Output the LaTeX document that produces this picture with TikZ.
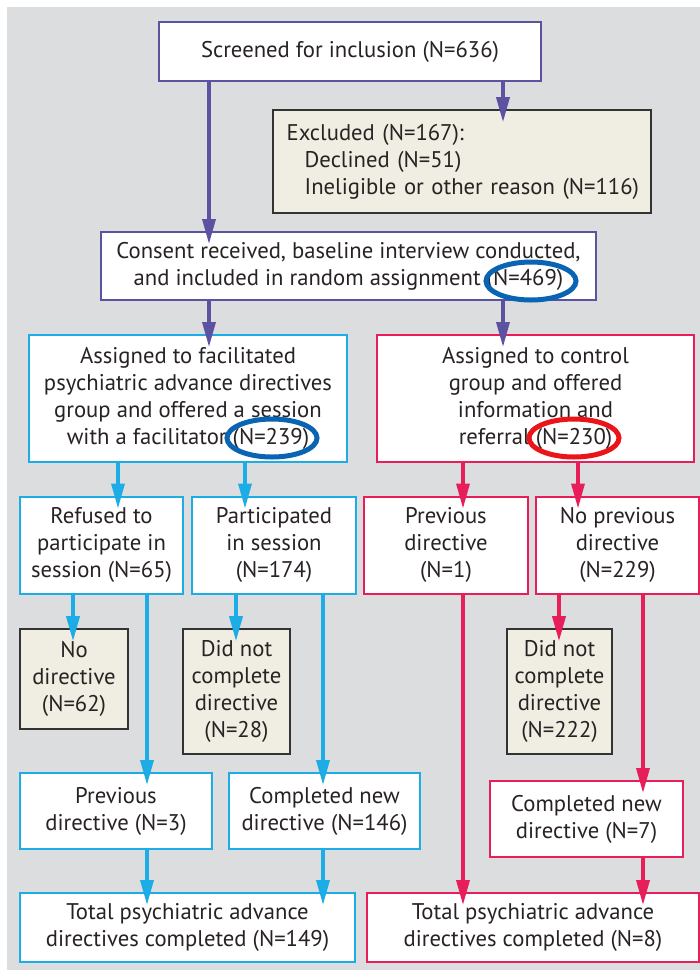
\documentclass[tikz,border=0pt]{standalone}
\usepackage{fontspec}
\setmainfont{PT Sans}
\usetikzlibrary{arrows.meta,calc,shapes.geometric}
\definecolor{bg}{RGB}{220,221,223}
\definecolor{purp}{RGB}{92,82,162}
\definecolor{cyanb}{RGB}{28,172,230}
\definecolor{pinkr}{RGB}{232,30,90}
\definecolor{beige}{RGB}{240,237,227}
\definecolor{ellb}{RGB}{10,100,180}
\definecolor{ellr}{RGB}{235,20,25}
\definecolor{txt}{RGB}{40,34,34}
\begin{document}
\begin{tikzpicture}[x=0.75pt,y=-0.75pt,
  every node/.style={font=\fontsize{17}{20.25}\selectfont, text=txt},
  box/.style={draw, line width=1.5pt, fill=white, inner sep=0pt, align=center},
  pbox/.style={box, draw=purp},
  bbox/.style={box, draw=cyanb},
  rbox/.style={box, draw=pinkr},
  gbox/.style={box, draw=black!80, fill=beige, line width=1.2pt},
  arr/.style={line width=2.6pt, -{Triangle[length=18.75pt,width=9.75pt]}},
  ring/.style={draw, ellipse, line width=3.75pt, minimum width=67.5pt, minimum height=28.5pt, inner sep=0pt},
]
\useasboundingbox (0,0) rectangle (700,976);
\fill[bg] (7,7) rectangle (700,970);

% x positions of connectors
\coordinate (xA) at (209,0);
\coordinate (xB) at (503,0);
\coordinate (xC) at (118,0);
\coordinate (xD) at (245,0);
\coordinate (xE) at (463,0);
\coordinate (xF) at (578,0);
\coordinate (xG) at (73,0);
\coordinate (xH) at (147,0);
\coordinate (xI) at (236,0);
\coordinate (xJ) at (323,0);
\coordinate (xK) at (559,0);
\coordinate (xL) at (643,0);

% boxes
\node[pbox, minimum width=286.5pt, minimum height=44.25pt] (scr) at (350,51.5) {Screened for inclusion (N=636)};
\node[gbox, minimum width=283.5pt, minimum height=77.25pt, text width=272pt, align=left] (exc) at (462,161.5)
  {\hspace*{4.5pt}Excluded (N=167):\\\hspace*{18pt}Declined (N=51)\\\hspace*{18pt}Ineligible or other reason (N=116)};
\node[pbox, minimum width=371.25pt, minimum height=51pt] (cons) at (348.5,266)
  {Consent received, baseline interview conducted,\\and included in random assignment (N=469)};
\node[bbox, minimum width=238.5pt, minimum height=95.25pt] (fac) at (188,398.5)
  {Assigned to facilitated\\psychiatric advance directives\\group and offered a session\\with a facilitator (N=239)};
\node[rbox, minimum width=237.75pt, minimum height=95.25pt] (ctl) at (535.5,398.5)
  {Assigned to control\\group and offered\\information and\\referral (N=230)};

\node[bbox, minimum width=122.25pt, minimum height=72.75pt] (ref) at (101.5,545) {Refused to\\participate in\\session (N=65)};
\node[bbox, minimum width=123pt, minimum height=72.75pt] (par) at (274,545) {Participated\\in session\\(N=174)};
\node[rbox, minimum width=123pt, minimum height=72.75pt] (pr1) at (446,545) {Previous\\directive\\(N=1)};
\node[rbox, minimum width=122.25pt, minimum height=72.75pt] (npr) at (617.5,545) {No previous\\directive\\(N=229)};

\node[gbox, minimum width=81pt, minimum height=75pt] (nod) at (74,679) {No\\directive\\(N=62)};
\node[gbox, minimum width=80.25pt, minimum height=93.75pt] (dn1) at (236.5,691.5) {Did not\\complete\\directive\\(N=28)};
\node[gbox, minimum width=78.75pt, minimum height=93.75pt] (dn2) at (559.5,691.5) {Did not\\complete\\directive\\(N=222)};

\node[bbox, minimum width=144pt, minimum height=57pt] (pr3) at (116,811) {Previous\\directive (N=3)};
\node[bbox, minimum width=143.25pt, minimum height=57pt] (cn1) at (324.5,811) {Completed new\\directive (N=146)};
\node[rbox, minimum width=144.75pt, minimum height=57pt] (cn2) at (586.5,819) {Completed new\\directive (N=7)};

\node[bbox, minimum width=251.25pt, minimum height=51.75pt] (totl) at (187.5,927.5) {Total psychiatric advance\\directives completed (N=149)};
\node[rbox, minimum width=249pt, minimum height=51.75pt] (totr) at (533,927.5) {Total psychiatric advance\\directives completed (N=8)};

% connectors
\draw[arr, purp] (scr.south -| xA) -- ([yshift=-9.75pt]cons.north -| xA);
\draw[arr, purp] (scr.south -| xB) -- ([yshift=-9.75pt]exc.north -| xB);
\draw[arr, purp] (cons.south -| xA) -- ([yshift=-9.75pt]fac.north -| xA);
\draw[arr, purp] (cons.south -| xB) -- ([yshift=-9.75pt]ctl.north -| xB);

\draw[arr, cyanb] (fac.south -| xC) -- ([yshift=-9.75pt]ref.north -| xC);
\draw[arr, cyanb] (fac.south -| xD) -- ([yshift=-9.75pt]par.north -| xD);
\draw[arr, pinkr] (ctl.south -| xE) -- ([yshift=-9.75pt]pr1.north -| xE);
\draw[arr, pinkr] (ctl.south -| xF) -- ([yshift=-9.75pt]npr.north -| xF);

\draw[arr, cyanb] (ref.south -| xG) -- ([yshift=-9.75pt]nod.north -| xG);
\draw[arr, cyanb] (ref.south -| xH) -- ([yshift=-9.75pt]pr3.north -| xH);
\draw[arr, cyanb] (par.south -| xI) -- ([yshift=-9.75pt]dn1.north -| xI);
\draw[arr, cyanb] (par.south -| xJ) -- ([yshift=-9.75pt]cn1.north -| xJ);
\draw[arr, pinkr] (pr1.south -| xE) -- ([yshift=-9.75pt]totr.north -| xE);
\draw[arr, pinkr] (npr.south -| xK) -- ([yshift=-9.75pt]dn2.north -| xK);
\draw[arr, pinkr] (npr.south -| xL) -- ([yshift=-9.75pt]cn2.north -| xL);

\draw[arr, cyanb] (pr3.south -| xH) -- ([yshift=-9.75pt]totl.north -| xH);
\draw[arr, cyanb] (cn1.south -| xJ) -- ([yshift=-9.75pt]totl.north -| xJ);
\draw[arr, pinkr] (cn2.south -| xL) -- ([yshift=-9.75pt]totr.north -| xL);

% highlight rings
\node[ring, draw=ellb] (r469) at (531,281) {};
\node[ring, draw=ellb] (r239) at (272,438) {};
\node[ring, draw=ellr] (r230) at (574,438) {};
\end{tikzpicture}
\end{document}
